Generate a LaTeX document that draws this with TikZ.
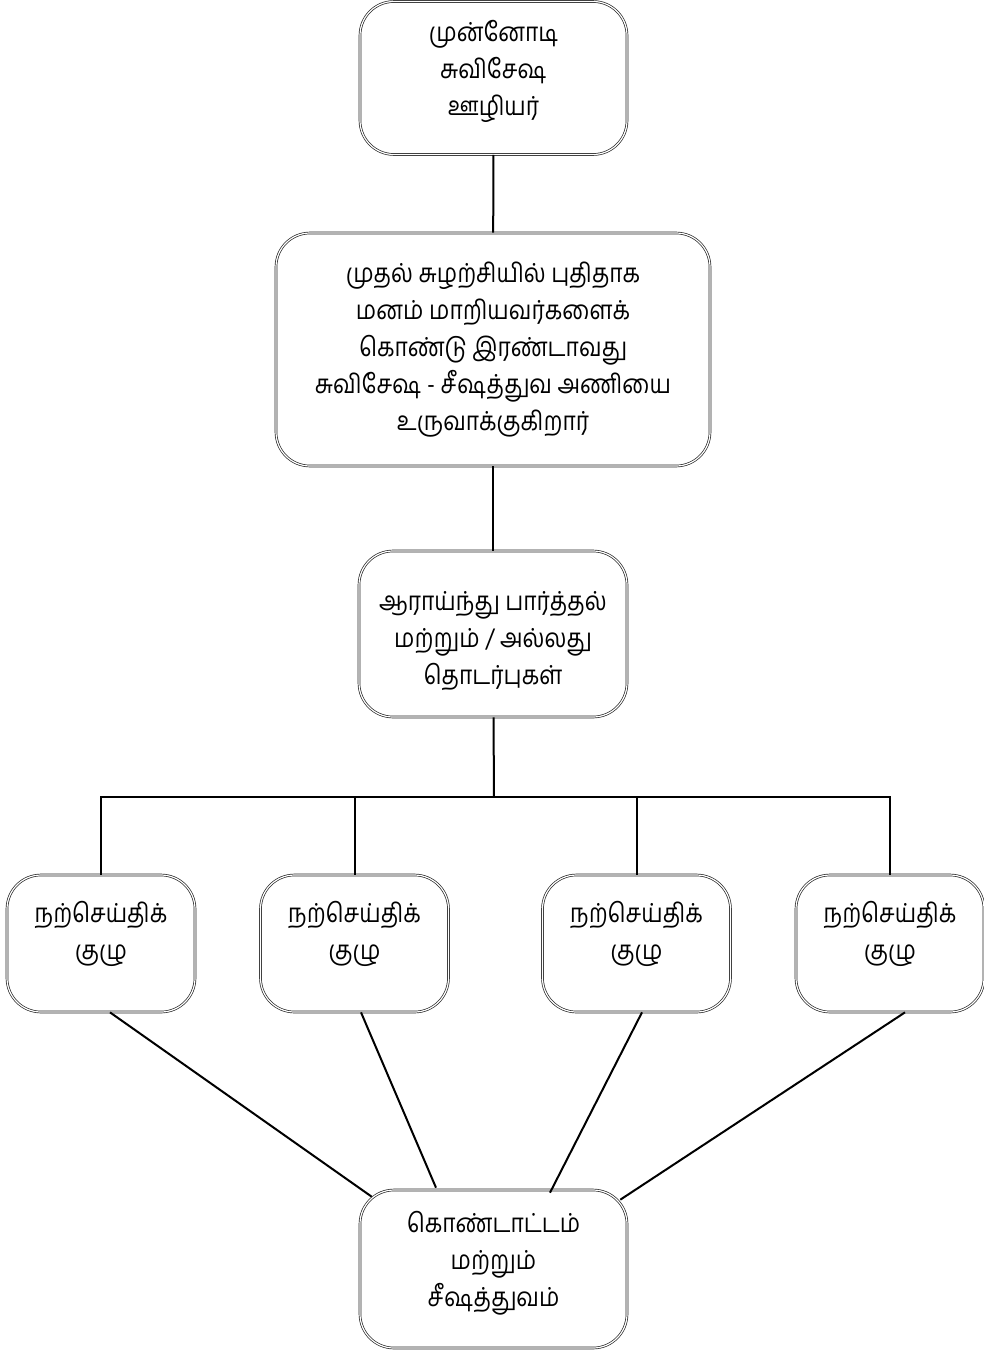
\documentclass[tikz,border=0pt]{standalone}
\usepackage{fontspec}
\newfontfamily\tamil[Script=Tamil,FakeStretch=0.87]{Hind Madurai}
\begin{document}
\begin{tikzpicture}[x=0.5pt,y=-0.5pt,
  box/.style={draw=black!85, double=white, double distance=0.6pt, line width=0.35pt,
    rounded corners=17pt, align=center, inner sep=2pt,
    font=\tamil\fontsize{13.1}{18.5}\selectfont},
  link/.style={line width=1pt}]
\useasboundingbox (0,0) rectangle (984,1350);
\node[box, minimum width=133.5pt, minimum height=76.5pt] (top) at (493.5,78) {முன்னோடி\\சுவிசேஷ\\ஊழியர்\\[-8pt]\mbox{}};
\node[box, minimum width=217pt, minimum height=116.5pt] (form) at (493,349.5) {முதல் சுழற்சியில் புதிதாக\\மனம் மாறியவர்களைக்\\கொண்டு இரண்டாவது\\சுவிசேஷ - சீஷத்துவ அணியை\\உருவாக்குகிறார்};
\node[box, minimum width=134pt, minimum height=83pt] (survey) at (493,634) {\mbox{}\\[-1.5pt]ஆராய்ந்து பார்த்தல்\\மற்றும் / அல்லது\\தொடர்புகள்};
\coordinate (bus) at (494,797);
\foreach \i/\x in {1/101,2/354.5,3/636.5,4/890}{
  \node[box, minimum width=94pt, minimum height=68.5pt] (g\i) at (\x,943.5) {நற்செய்திக்\\குழு\\[-5.5pt]\mbox{}};
}
\node[box, minimum width=133.5pt, minimum height=79pt] (cel) at (493.5,1269) {கொண்டாட்டம்\\மற்றும்\\சீஷத்துவம்\\[-8pt]\mbox{}};
\draw[link] (top) -- (form);
\draw[link] (form) -- (survey);
\draw[link] (survey) -- (bus);
\draw[link] (g1.north) -- (g1.north |- bus) -- (g4.north |- bus) -- (g4.north);
\draw[link] (g2.north) -- (g2.north |- bus);
\draw[link] (g3.north) -- (g3.north |- bus);
\draw[link] ([xshift=4.5pt]g1.south) -- ([xshift=6pt,yshift=-3.5pt]cel.north west);
\draw[link] ([xshift=3.25pt]g2.south) -- ([xshift=-28.75pt,yshift=1pt]cel.north);
\draw[link] ([xshift=2.75pt]g3.south) -- ([xshift=28.25pt,yshift=-1.5pt]cel.north);
\draw[link] ([xshift=7.5pt]g4.south) -- ([xshift=-3.5pt,yshift=-5pt]cel.north east);
\end{tikzpicture}
\end{document}
